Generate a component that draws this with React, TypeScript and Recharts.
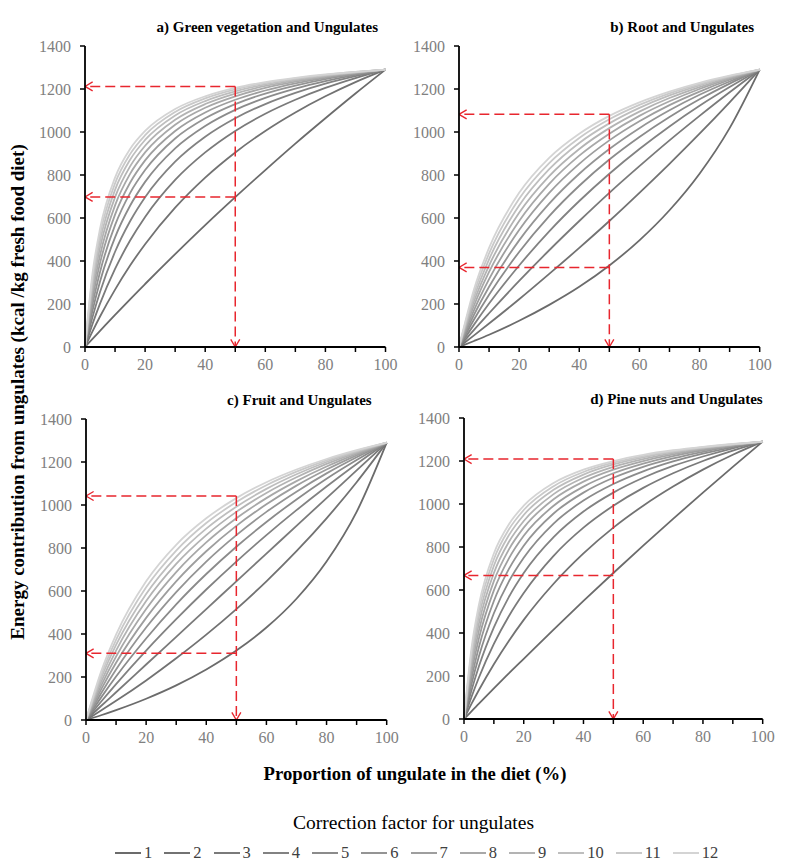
import { LineChart, Line, XAxis, YAxis, ReferenceLine } from "recharts";

// correction factors shown in the legend
const factorNames = ["1", "2", "3", "4", "5", "6", "7", "8", "9", "10", "11", "12"];
const factorColors = [
    "#6b6b6b", "#727272", "#7a7a7a", "#828282", "#8b8b8b", "#949494",
    "#9e9e9e", "#a8a8a8", "#b3b3b3", "#bebebe", "#c9c9c9", "#d4d4d4",
];

const xTicks = [0, 10, 20, 30, 40, 50, 60, 70, 80, 90, 100];
const yTicks = [0, 200, 400, 600, 800, 1000, 1200, 1400];

// proportion of ungulate (%) where values were read
const fineSteps = [0, 2.5, 5, 10, 15, 20, 30, 40, 50, 60, 70, 80, 90, 100];
const coarseSteps = [0, 5, 10, 20, 30, 40, 50, 60, 70, 80, 90, 100];

// a) Green vegetation and Ungulates (one row per correction factor)
const greenVegetation = [
    [0, 38, 75, 149, 222, 293, 432, 567, 697, 823, 946, 1064, 1179, 1290],
    [0, 73, 142, 267, 379, 478, 648, 788, 905, 1005, 1091, 1166, 1232, 1290],
    [0, 107, 202, 363, 495, 605, 777, 905, 1005, 1085, 1150, 1205, 1251, 1290],
    [0, 139, 256, 443, 585, 697, 862, 978, 1064, 1130, 1182, 1225, 1260, 1290],
    [0, 169, 305, 510, 657, 768, 924, 1028, 1103, 1159, 1202, 1237, 1266, 1290],
    [0, 198, 349, 567, 716, 823, 970, 1064, 1130, 1179, 1216, 1246, 1270, 1290],
    [0, 225, 390, 616, 764, 868, 1005, 1091, 1150, 1193, 1226, 1252, 1273, 1290],
    [0, 251, 427, 659, 805, 905, 1034, 1113, 1166, 1205, 1234, 1257, 1275, 1290],
    [0, 275, 462, 697, 840, 936, 1057, 1130, 1179, 1214, 1240, 1260, 1277, 1290],
    [0, 299, 493, 731, 871, 963, 1077, 1144, 1189, 1221, 1245, 1263, 1278, 1290],
    [0, 321, 523, 761, 897, 985, 1093, 1156, 1198, 1227, 1249, 1266, 1279, 1290],
    [0, 343, 550, 788, 921, 1005, 1107, 1166, 1205, 1232, 1252, 1268, 1280, 1290],
];

// b) Root and Ungulates
const rootDiet = [
    [0, 28, 57, 122, 196, 280, 379, 496, 636, 806, 1018, 1290],
    [0, 54, 109, 222, 340, 461, 586, 717, 852, 992, 1138, 1290],
    [0, 80, 157, 307, 450, 586, 717, 841, 961, 1075, 1185, 1290],
    [0, 104, 202, 379, 538, 679, 806, 921, 1026, 1122, 1209, 1290],
    [0, 128, 243, 442, 609, 750, 872, 977, 1070, 1152, 1225, 1290],
    [0, 150, 280, 496, 667, 806, 921, 1018, 1101, 1173, 1235, 1290],
    [0, 172, 316, 544, 717, 852, 961, 1050, 1125, 1188, 1243, 1290],
    [0, 193, 349, 586, 759, 890, 992, 1075, 1143, 1200, 1248, 1290],
    [0, 213, 379, 624, 795, 921, 1018, 1095, 1158, 1209, 1253, 1290],
    [0, 232, 408, 658, 827, 949, 1040, 1112, 1170, 1217, 1257, 1290],
    [0, 251, 435, 689, 855, 972, 1059, 1126, 1180, 1223, 1260, 1290],
    [0, 269, 461, 717, 880, 992, 1075, 1138, 1188, 1229, 1262, 1290],
];

// c) Fruit and Ungulates
const fruitDiet = [
    [0, 22, 46, 99, 161, 235, 323, 430, 564, 737, 968, 1290],
    [0, 44, 89, 184, 287, 397, 516, 645, 785, 938, 1106, 1290],
    [0, 65, 129, 258, 387, 516, 645, 774, 903, 1032, 1161, 1290],
    [0, 85, 167, 323, 469, 607, 737, 860, 976, 1086, 1191, 1290],
    [0, 104, 202, 379, 538, 679, 806, 921, 1026, 1122, 1209, 1290],
    [0, 123, 235, 430, 595, 737, 860, 968, 1062, 1147, 1222, 1290],
    [0, 141, 266, 475, 645, 785, 903, 1003, 1090, 1165, 1231, 1290],
    [0, 159, 295, 516, 688, 826, 938, 1032, 1111, 1179, 1238, 1290],
    [0, 176, 323, 553, 726, 860, 968, 1056, 1129, 1191, 1244, 1290],
    [0, 193, 349, 586, 759, 890, 992, 1075, 1143, 1200, 1248, 1290],
    [0, 209, 373, 617, 788, 916, 1014, 1092, 1155, 1208, 1252, 1290],
    [0, 224, 397, 645, 815, 938, 1032, 1106, 1165, 1214, 1255, 1290],
];

// d) Pine nuts and Ungulates
const pineNuts = [
    [0, 36, 71, 142, 212, 280, 416, 549, 679, 806, 931, 1053, 1173, 1290],
    [0, 70, 135, 255, 363, 461, 629, 770, 890, 992, 1081, 1160, 1229, 1290],
    [0, 102, 193, 349, 478, 586, 759, 890, 992, 1075, 1143, 1200, 1248, 1290],
    [0, 132, 245, 426, 567, 679, 846, 965, 1053, 1122, 1177, 1221, 1259, 1290],
    [0, 161, 292, 492, 639, 750, 909, 1016, 1093, 1152, 1198, 1234, 1265, 1290],
    [0, 188, 335, 549, 697, 806, 956, 1053, 1122, 1173, 1212, 1243, 1269, 1290],
    [0, 215, 375, 598, 746, 852, 992, 1081, 1143, 1188, 1223, 1250, 1272, 1290],
    [0, 239, 411, 641, 788, 890, 1022, 1104, 1160, 1200, 1231, 1255, 1274, 1290],
    [0, 263, 445, 679, 823, 921, 1046, 1122, 1173, 1209, 1237, 1259, 1276, 1290],
    [0, 286, 476, 713, 854, 949, 1066, 1137, 1184, 1217, 1242, 1262, 1277, 1290],
    [0, 308, 505, 743, 881, 972, 1083, 1149, 1192, 1223, 1246, 1264, 1278, 1290],
    [0, 329, 532, 770, 905, 992, 1098, 1160, 1200, 1229, 1250, 1266, 1279, 1290],
];

// red guide arrows at 50 %: [upper level, lower level]
const greenArrows = [1212, 698];
const rootArrows = [1082, 370];
const fruitArrows = [1042, 310];
const pineArrows = [1209, 668];

const FONT = "'Liberation Serif', serif";
const RED = "#e8262e";

type PanelProps = {
    left: number;
    top: number;
    plotWidth: number;
    title: string;
    titleRight: number;
    steps: number[];
    series: number[][];
    arrows: number[];
};

const Panel = ({ left, top, plotWidth, title, titleRight, steps, series, arrows }: PanelProps) => {
    const data = steps.map((x, i) => {
        const row: Record<string, number> = { x };
        series.forEach((s, k) => {
            row["c" + (k + 1)] = s[i];
        });
        return row;
    });
    const dash = { stroke: RED, strokeWidth: 1.5, strokeDasharray: "10 5", markerEnd: "url(#redArrow)" };
    return (
        <>
            <div
                style={{
                    position: "absolute",
                    left: 0,
                    width: left + plotWidth - titleRight,
                    top: top - 27,
                    textAlign: "right",
                    fontFamily: FONT,
                    fontWeight: "bold",
                    fontSize: 15,
                    whiteSpace: "nowrap",
                }}
            >
                {title}
            </div>
            <div style={{ position: "absolute", left: left - 60, top: top - 45 }}>
                <LineChart
                    width={60 + plotWidth + 14}
                    height={45 + 301 + 35}
                    data={data}
                    margin={{ top: 45, right: 14, bottom: 0, left: 0 }}
                >
                    <XAxis
                        dataKey="x"
                        type="number"
                        domain={[0, 100]}
                        ticks={xTicks}
                        interval={0}
                        tickFormatter={(v: number) => (v % 20 === 0 ? String(v) : "")}
                        height={35}
                        tickSize={5}
                        tickMargin={7}
                        axisLine={{ stroke: "#000", strokeWidth: 1.8 }}
                        tickLine={{ stroke: "#000", strokeWidth: 1.5 }}
                        tick={{ fill: "#808080", fontSize: 16, fontFamily: FONT }}
                    />
                    <YAxis
                        type="number"
                        domain={[0, 1400]}
                        ticks={yTicks}
                        interval={0}
                        width={60}
                        tickSize={5}
                        tickMargin={9}
                        axisLine={{ stroke: "#000", strokeWidth: 1.8 }}
                        tickLine={{ stroke: "#000", strokeWidth: 1.5 }}
                        tick={{ fill: "#808080", fontSize: 16, fontFamily: FONT }}
                    />
                    {factorNames.map((name, k) => (
                        <Line
                            key={name}
                            dataKey={"c" + (k + 1)}
                            name={name}
                            type="monotone"
                            stroke={factorColors[k]}
                            strokeWidth={1.8}
                            dot={false}
                            isAnimationActive={false}
                        />
                    ))}
                    <ReferenceLine segment={[{ x: 50, y: arrows[0] }, { x: 0, y: arrows[0] }]} {...dash} />
                    <ReferenceLine segment={[{ x: 50, y: arrows[1] }, { x: 0, y: arrows[1] }]} {...dash} />
                    <ReferenceLine segment={[{ x: 50, y: arrows[0] }, { x: 50, y: 0 }]} {...dash} />
                </LineChart>
            </div>
        </>
    );
};

const App = () => {
    return (
        <div style={{ position: "relative", width: 775, height: 853, fontFamily: FONT }}>
            <svg width={0} height={0} style={{ position: "absolute" }}>
                <defs>
                    <marker
                        id="redArrow"
                        viewBox="0 0 10 12"
                        refX={9.5}
                        refY={6}
                        markerWidth={9}
                        markerHeight={11}
                        markerUnits="userSpaceOnUse"
                        orient="auto"
                    >
                        <path d="M1,1 L9.5,6 L1,11" fill="none" stroke={RED} strokeWidth={1.5} />
                    </marker>
                </defs>
            </svg>

            <Panel left={76.5} top={37.7} plotWidth={300.5} title="a) Green vegetation and Ungulates" titleRight={7}
                steps={fineSteps} series={greenVegetation} arrows={greenArrows} />
            <Panel left={451.3} top={37.7} plotWidth={300.7} title="b) Root and Ungulates" titleRight={6}
                steps={coarseSteps} series={rootDiet} arrows={rootArrows} />
            <Panel left={78} top={411} plotWidth={300.7} title="c) Fruit and Ungulates" titleRight={15}
                steps={coarseSteps} series={fruitDiet} arrows={fruitArrows} />
            <Panel left={456} top={410.3} plotWidth={298.7} title="d) Pine nuts and Ungulates" titleRight={0}
                steps={fineSteps} series={pineNuts} arrows={pineArrows} />

            <div
                style={{
                    position: "absolute",
                    left: 10,
                    top: 384,
                    transform: "translate(-50%, -50%) rotate(-90deg)",
                    fontWeight: "bold",
                    fontSize: 19,
                    whiteSpace: "nowrap",
                }}
            >
                Energy contribution from ungulates (kcal /kg fresh food diet)
            </div>
            <div
                style={{
                    position: "absolute",
                    left: 407,
                    top: 766,
                    transform: "translate(-50%, -50%)",
                    fontWeight: "bold",
                    fontSize: 18.7,
                    whiteSpace: "nowrap",
                }}
            >
                Proportion of ungulate in the diet (%)
            </div>
            <div
                style={{
                    position: "absolute",
                    left: 405.5,
                    top: 815,
                    transform: "translate(-50%, -50%)",
                    fontSize: 19.5,
                    whiteSpace: "nowrap",
                }}
            >
                Correction factor for ungulates
            </div>
            <div
                style={{
                    position: "absolute",
                    left: 107,
                    top: 836,
                    display: "flex",
                    alignItems: "center",
                    height: 18,
                    lineHeight: "18px",
                }}
            >
                {factorNames.map((name, k) => (
                    <div key={name} style={{ display: "flex", alignItems: "center", marginRight: 12 }}>
                        <div style={{ width: 26, height: 2, background: factorColors[k] }} />
                        <span style={{ marginLeft: 3, fontSize: 16.5, color: "#404040" }}>{name}</span>
                    </div>
                ))}
            </div>
        </div>
    );
};

export default App;
